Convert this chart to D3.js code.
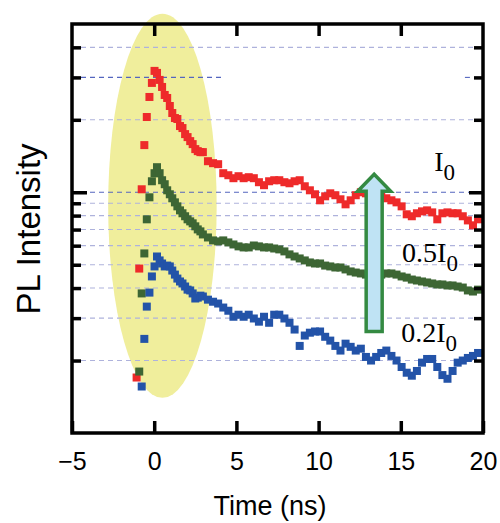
<!DOCTYPE html>
<html>
<head>
<meta charset="utf-8">
<script src="https://cdn.jsdelivr.net/npm/d3@7"></script>
<style>
body { margin: 0; background: #fff; }
</style>
</head>
<body>
<script>
// sample times (ns)
var times = [-1.07, -0.91, -0.76, -0.60, -0.45, -0.29, -0.14, 0.02, 0.17, 0.33, 0.48, 0.64, 0.79, 0.95,
	1.10, 1.26, 1.41, 1.57, 1.72, 1.88, 2.03, 2.19, 2.34, 2.50, 2.65, 2.81, 2.96,
	3.27, 3.58, 3.89, 4.20, 4.51, 4.82, 5.13, 5.44, 5.75, 6.06, 6.37, 6.68, 6.99, 7.30, 7.61, 7.92,
	8.23, 8.54, 8.85, 9.16, 9.47, 9.78, 10.09, 10.40, 10.71, 11.02, 11.33, 11.64, 11.95, 12.26,
	12.57, 12.88, 13.19, 13.50, 13.81, 14.12, 14.43, 14.74, 15.05, 15.36, 15.67, 15.98, 16.29,
	16.60, 16.91, 17.22, 17.53, 17.84, 18.15, 18.46, 18.77, 19.08, 19.39, 19.70];

// PL intensity, I0
var red = [0.170, 0.482, 1.029, 1.570, 2.054, 2.488, 2.846, 3.193, 3.132, 2.929, 2.738, 2.536, 2.464, 2.282,
	2.134, 2.034, 2.015, 1.884, 1.848, 1.744, 1.695, 1.631, 1.585, 1.511, 1.482, 1.468, 1.468,
	1.346, 1.321, 1.308, 1.200, 1.177, 1.144, 1.166, 1.144, 1.155, 1.144, 1.101, 1.070, 1.111, 1.122, 1.122, 1.101,
	1.090, 1.111, 1.122, 1.059, 1.019, 0.981, 0.926, 0.962, 0.990, 0.972, 0.935, 0.891, 0.926, 0.972,
	1.000, 0.990, 0.972, 0.962, 0.962, 0.944, 0.926, 0.908, 0.874, 0.810, 0.795, 0.818, 0.833,
	0.841, 0.825, 0.772, 0.818, 0.825, 0.818, 0.818, 0.795, 0.764, 0.729, 0.772];

// 0.5 I0
var green = [null, 0.180, 0.380, 0.557, 0.772, 0.953, 1.111, 1.200, 1.271, 1.200, 1.122, 1.080, 1.019, 0.981,
	0.944, 0.908, 0.874, 0.841, 0.818, 0.795, 0.772, 0.757, 0.743, 0.722, 0.701, 0.688, 0.668,
	0.649, 0.631, 0.625, 0.631, 0.619, 0.607, 0.596, 0.590, 0.590, 0.601, 0.596, 0.590, 0.590, 0.584, 0.579, 0.568,
	0.552, 0.541, 0.531, 0.521, 0.511, 0.506, 0.506, 0.496, 0.492, 0.487, 0.487, 0.478, 0.469, 0.464,
	0.460, 0.455, 0.455, 0.455, 0.455, 0.460, 0.460, 0.455, 0.447, 0.442, 0.434, 0.430, 0.426,
	0.422, 0.418, 0.414, 0.414, 0.410, 0.410, 0.406, 0.402, 0.391, 0.387, 0.394];

// 0.2 I0
var blue = [null, null, 0.156, 0.246, 0.335, 0.383, 0.447, 0.492, 0.541, 0.521, 0.506, 0.492, 0.496, 0.492,
	0.473, 0.455, 0.438, 0.426, 0.418, 0.406, 0.394, 0.391, 0.380, 0.362, 0.365, 0.372, 0.369,
	0.358, 0.351, 0.345, 0.332, 0.322, 0.304, 0.310, 0.304, 0.310, 0.299, 0.290, 0.304, 0.287, 0.310, 0.310, 0.299,
	0.287, 0.269, 0.230, 0.254, 0.261, 0.264, 0.264, 0.251, 0.242, 0.230, 0.220, 0.235, 0.228, 0.220,
	0.224, 0.207, 0.200, 0.207, 0.215, 0.220, 0.209, 0.200, 0.188, 0.178, 0.173, 0.181, 0.196,
	0.203, 0.203, 0.188, 0.174, 0.168, 0.181, 0.196, 0.200, 0.205, 0.209, 0.215];

var xTicks = [-5, 0, 5, 10, 15, 20];
var yMajor = [1];
var yMinor = [0.2, 0.3, 0.4, 0.5, 0.6, 0.7, 0.8, 0.9, 2, 3, 4];
var labels = [
	{t: 17.03, v: 1.22, main: "I", sub: "0"},
	{t: 15.08, v: 0.511, main: "0.5I", sub: "0"},
	{t: 15.02, v: 0.239, main: "0.2I", sub: "0"}
];

var margin = {top: 24, right: 17, bottom: 90, left: 72};
var width = 500 - margin.left - margin.right;
var height = 523 - margin.top - margin.bottom;

var svg = d3.select("body").append("svg")
	.attr("width", 500)
	.attr("height", 523)
	.append("g")
	.attr("transform", "translate(" + margin.left + "," + margin.top + ")");

var x = d3.scaleLinear().domain([-5, 20]).range([0, width]);
var y = d3.scaleLog().domain([0.1, 5]).range([height, 0]);

// highlight ellipse round the rise
svg.append("ellipse")
	.attr("cx", x(0.5))
	.attr("cy", (y(5.52) + y(0.14)) / 2)
	.attr("rx", x(3.8) - x(0.5))
	.attr("ry", (y(0.14) - y(5.52)) / 2)
	.attr("fill", "#f0ee9c");

// dashed grid
var gridDark = [1];
svg.selectAll(".grid")
	.data(yMinor.filter(function(d) { return d != 3; }).concat(yMajor))
	.enter().append("line")
	.attr("x1", 0)
	.attr("x2", width - 6)
	.attr("y1", function(d) { return y(d); })
	.attr("y2", function(d) { return y(d); })
	.attr("stroke", function(d) { return gridDark.indexOf(d) >= 0 ? "#5466bf" : "#aeb2dc"; })
	.attr("stroke-width", 1.1)
	.attr("stroke-dasharray", "5,4");

var partial = [[-5, 4.1], [18.9, 19.4]];
svg.selectAll(".grid3")
	.data(partial)
	.enter().append("line")
	.attr("x1", function(d) { return x(d[0]); })
	.attr("x2", function(d) { return x(d[1]); })
	.attr("y1", y(3))
	.attr("y2", y(3))
	.attr("stroke", "#5466bf")
	.attr("stroke-width", 1.1)
	.attr("stroke-dasharray", "5,4");

// data squares
var series = [
	{values: red, color: "#ee2a2a"},
	{values: green, color: "#3d6634"},
	{values: blue, color: "#2353a8"}
];
var sz = 8;
series.forEach(function(s) {
	var pts = times.map(function(t, i) { return {t: t, v: s.values[i]}; })
		.filter(function(d) { return d.v != null; });
	svg.append("g").selectAll("rect")
		.data(pts)
		.enter().append("rect")
		.attr("x", function(d) { return x(d.t) - sz / 2; })
		.attr("y", function(d) { return y(d.v) - sz / 2; })
		.attr("width", sz)
		.attr("height", sz)
		.attr("fill", s.color);
});

// arrow
var ax = x(13.38);
var aTip = y(1.188), aBase = y(1.01), aBot = y(0.264);
var hw = 8, hh = 16.5;
svg.append("path")
	.attr("d", "M" + (ax - hw) + "," + aBot + "L" + (ax - hw) + "," + aBase + "L" + (ax - hh) + "," + aBase +
		"L" + ax + "," + aTip + "L" + (ax + hh) + "," + aBase + "L" + (ax + hw) + "," + aBase +
		"L" + (ax + hw) + "," + aBot + "Z")
	.attr("fill", "#bfe3f4")
	.attr("stroke", "#348a42")
	.attr("stroke-width", 3.5)
	.attr("stroke-linejoin", "miter");

// ticks
function tickAxis(axis, tx, ty) {
	var g = svg.append("g").attr("transform", "translate(" + tx + "," + ty + ")").call(axis);
	g.select(".domain").remove();
	g.selectAll(".tick line").attr("stroke", "#000").attr("stroke-width", 3.5);
	return g;
}

tickAxis(d3.axisTop(x).tickValues([0, 5, 10, 15]).tickSize(-12).tickFormat(""), 0, 0);
var xb = tickAxis(d3.axisBottom(x).tickValues(xTicks).tickSize(-12).tickPadding(19), 0, height);
xb.selectAll(".tick text")
	.attr("font-family", "Liberation Sans, Arial, sans-serif")
	.attr("font-size", "25px")
	.attr("fill", "#000");

tickAxis(d3.axisLeft(y).tickValues(yMajor).tickSize(-15).tickFormat(""), 0, 0);
tickAxis(d3.axisLeft(y).tickValues(yMinor).tickSize(-9).tickFormat(""), 0, 0);
tickAxis(d3.axisRight(y).tickValues(yMajor).tickSize(-14).tickFormat(""), width, 0);
tickAxis(d3.axisRight(y).tickValues(yMinor).tickSize(-9).tickFormat(""), width, 0);

// frame
svg.append("rect")
	.attr("x", 0)
	.attr("y", 0)
	.attr("width", width)
	.attr("height", height)
	.attr("fill", "none")
	.attr("stroke", "#000")
	.attr("stroke-width", 3.5);

// series labels
var lab = svg.selectAll(".lab")
	.data(labels)
	.enter().append("text")
	.attr("x", function(d) { return x(d.t); })
	.attr("y", function(d) { return y(d.v); })
	.attr("font-family", "Liberation Serif, Times New Roman, serif")
	.attr("font-size", "28px")
	.attr("fill", "#000");
lab.append("tspan").text(function(d) { return d.main; });
lab.append("tspan").attr("dy", 9).attr("font-size", "23px").text(function(d) { return d.sub; });

// axis titles
svg.append("text")
	.attr("x", 270 - margin.left)
	.attr("y", 515 - margin.top)
	.attr("text-anchor", "middle")
	.attr("font-family", "Liberation Sans, Arial, sans-serif")
	.attr("font-size", "27px")
	.attr("fill", "#000")
	.text("Time (ns)");

svg.append("text")
	.attr("transform", "translate(" + (40 - margin.left) + "," + (229 - margin.top) + ") rotate(-90)")
	.attr("text-anchor", "middle")
	.attr("font-family", "Liberation Sans, Arial, sans-serif")
	.attr("font-size", "33px")
	.attr("fill", "#000")
	.text("PL Intensity");
</script>
</body>
</html>
